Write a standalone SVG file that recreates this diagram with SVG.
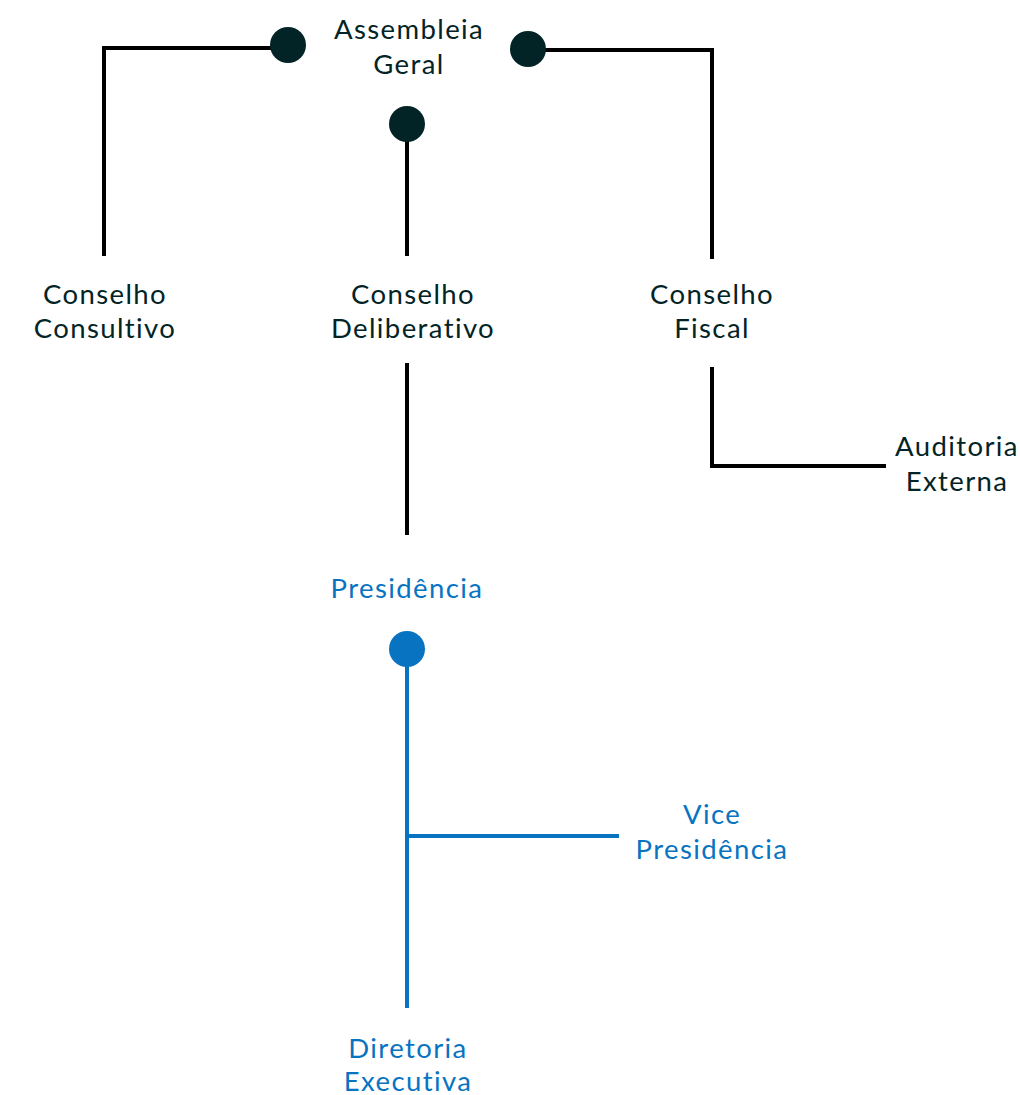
<svg xmlns="http://www.w3.org/2000/svg" width="1020" height="1095" viewBox="0 0 1020 1095">
<style>
.t{font-family:"Lato","Open Sans",sans-serif;font-size:27.5px;letter-spacing:1.4px;text-anchor:middle}
.d{fill:#032426}
.b{fill:#0874c1}
.lk{fill:none;stroke:#000;stroke-width:4}
.lb{fill:none;stroke:#0874c1;stroke-width:4}
</style>
<rect width="1020" height="1095" fill="#fff"/>
<g id="connectors">
<path class="lk" d="M104,256 V48 H280"/>
<path class="lk" d="M530,50 H712 V259"/>
<path class="lk" d="M407,124 V256"/>
<path class="lk" d="M407,363 V535"/>
<path class="lk" d="M712,367 V466 H886"/>
<path class="lb" d="M407,649 V1008"/>
<path class="lb" d="M407,836 H619"/>
<circle cx="288" cy="45" r="18" class="d"/>
<circle cx="528" cy="49" r="18" class="d"/>
<circle cx="407" cy="124" r="18" class="d"/>
<circle cx="407" cy="649" r="18" class="b"/>
</g>
<g id="assembleia"><text class="t d" x="409" y="39">Assembleia</text><text class="t d" x="409" y="74">Geral</text></g>
<g id="consultivo"><text class="t d" x="105" y="304">Conselho</text><text class="t d" x="105" y="338">Consultivo</text></g>
<g id="deliberativo"><text class="t d" x="413" y="304">Conselho</text><text class="t d" x="413" y="338">Deliberativo</text></g>
<g id="fiscal"><text class="t d" x="712" y="304">Conselho</text><text class="t d" x="712" y="338">Fiscal</text></g>
<g id="auditoria"><text class="t d" x="957" y="456">Auditoria</text><text class="t d" x="957" y="491">Externa</text></g>
<g id="presidencia"><text class="t b" x="407" y="598">Presidência</text></g>
<g id="vice"><text class="t b" x="712" y="824">Vice</text><text class="t b" x="712" y="859">Presidência</text></g>
<g id="diretoria"><text class="t b" x="408" y="1058">Diretoria</text><text class="t b" x="408" y="1091">Executiva</text></g>
</svg>
